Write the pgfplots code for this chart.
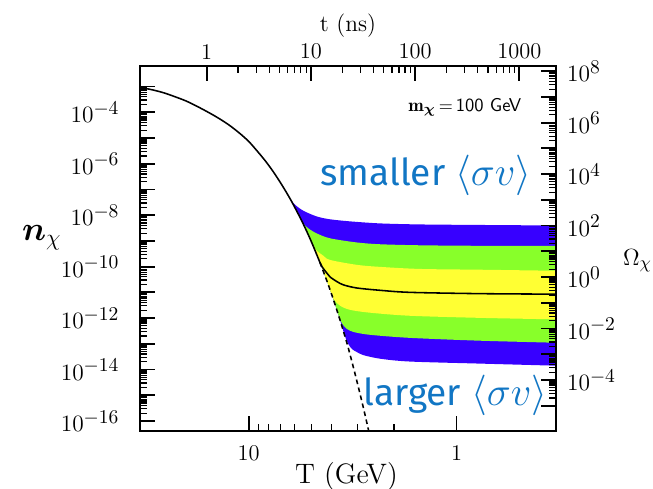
\documentclass[border=0pt]{standalone}
\usepackage{amsmath}
\usepackage{fontspec}
\usepackage{pgfplots}
\pgfplotsset{compat=1.18}
\usepgfplotslibrary{fillbetween}
\newfontfamily\fira{Fira Sans}
\newcommand\bluefont{\fira\fontsize{19}{22}\selectfont}
\newcommand\sv{{\fontsize{21}{24}\selectfont$\langle\sigma v\rangle$}}
\newcommand\tk[1]{$10^{\mbox{\fontsize{10}{12}\selectfont$#1$}}$}
\definecolor{bandblue}{RGB}{55,0,255}
\definecolor{bandgreen}{RGB}{136,255,42}
\definecolor{bandyellow}{RGB}{255,255,51}
\definecolor{textblue}{RGB}{17,118,196}

\begin{document}
\begin{tikzpicture}
% n_chi against T (GeV), T falling to the right
\begin{axis}[name=main,
    scale only axis, width=74.83mm, height=65.7mm,
    xmode=log, ymode=log, x dir=reverse,
    xmin=0.3333, xmax=33.33, ymin=4.07e-17, ymax=6.31e-3,
    tick align=inside,
    major tick length=2.7mm, minor tick length=1.2mm,
    major tick style={line width=0.9pt, black},
    minor tick style={line width=0.6pt, black},
    axis line style={line width=1.1pt},
    tick label style={font=\fontsize{11.5}{13}\selectfont},
    xtick pos=left, ytick pos=left,
    xtick={1,10}, xticklabels={1,10},
    ytick={1e-16,1e-15,1e-14,1e-13,1e-12,1e-11,1e-10,1e-9,1e-8,1e-7,1e-6,1e-5,1e-4,1e-3},
    yticklabels={\tk{-16},,\tk{-14},,\tk{-12},,\tk{-10},,\tk{-8},,\tk{-6},,\tk{-4},},
    xticklabel shift=4pt, yticklabel shift=7pt,
  ]
% band edges, top to bottom; all leave the equilibrium curve at T = 6.7 GeV
\addplot[name path=B1, draw=none, smooth] coordinates {
  (6.667,9.12e-8) (6.31,4.27e-8) (5.97,2.51e-8) (5.45,1.48e-8) (4.70,8.91e-9)
  (4.06,6.92e-9) (3.25,5.75e-9) (2.33,4.79e-9) (1.50,4.37e-9) (0.773,4.17e-9) (0.3333,3.98e-9)};
\addplot[name path=B2, draw=none, smooth] coordinates {
  (6.667,9.12e-8) (6.25,3.72e-8) (5.882,1.48e-8) (5.556,6.03e-9) (5.45,4.68e-9)
  (5.17,3.09e-9) (4.70,1.95e-9) (4.06,1.26e-9) (3.02,8.71e-10) (2.33,7.41e-10)
  (1.50,6.76e-10) (0.773,6.46e-10) (0.3333,6.46e-10)};
\addplot[name path=B3, draw=none, smooth] coordinates {
  (6.667,9.12e-8) (6.25,3.72e-8) (5.882,1.48e-8) (5.556,6.03e-9) (5.263,2.40e-9)
  (5.06,1.20e-9) (4.786,4.79e-10) (4.365,2.63e-10) (4.06,1.82e-10) (3.02,1.175e-10)
  (2.33,9.77e-11) (1.50,8.13e-11) (0.773,7.59e-11) (0.3333,6.92e-11)};
\addplot[name path=B4, draw=none, smooth] coordinates {
  (6.667,9.12e-8) (6.25,3.72e-8) (5.882,1.48e-8) (5.556,6.03e-9) (5.263,2.40e-9)
  (5.0,9.55e-10) (4.762,3.72e-10) (4.545,1.48e-10) (4.348,5.75e-11) (4.167,2.29e-11)
  (4.06,1.26e-11) (3.91,5.62e-12) (3.63,3.02e-12) (3.25,2.09e-12) (2.61,1.62e-12)
  (1.675,1.23e-12) (0.773,1.02e-12) (0.3333,8.91e-13)};
\addplot[name path=B5, draw=none, smooth] coordinates {
  (6.667,9.12e-8) (6.25,3.72e-8) (5.882,1.48e-8) (5.556,6.03e-9) (5.263,2.40e-9)
  (5.0,9.55e-10) (4.762,3.72e-10) (4.545,1.48e-10) (4.348,5.75e-11) (4.167,2.29e-11)
  (4.0,8.91e-12) (3.846,3.47e-12) (3.704,1.35e-12) (3.55,6.03e-13) (3.37,3.80e-13)
  (3.13,2.88e-13) (2.61,2.24e-13) (1.675,1.70e-13) (0.773,1.32e-13) (0.3333,1.10e-13)};
\addplot[name path=B6, draw=none, smooth] coordinates {
  (6.667,9.12e-8) (6.25,3.72e-8) (5.882,1.48e-8) (5.556,6.03e-9) (5.263,2.40e-9)
  (5.0,9.55e-10) (4.762,3.72e-10) (4.545,1.48e-10) (4.348,5.75e-11) (4.167,2.29e-11)
  (4.0,8.91e-12) (3.846,3.47e-12) (3.704,1.35e-12) (3.571,5.25e-13) (3.448,2.04e-13)
  (3.333,1.05e-13) (3.25,7.59e-14) (3.13,5.62e-14) (3.02,4.79e-14) (2.807,3.63e-14)
  (2.33,2.63e-14) (1.675,2.04e-14) (0.773,1.70e-14) (0.3333,1.41e-14)};
\addplot[fill=bandblue, draw=none] fill between[of=B1 and B6];
\addplot[fill=bandgreen, draw=none] fill between[of=B2 and B5];
\addplot[fill=bandyellow, draw=none] fill between[of=B3 and B4];
% equilibrium curve, then freeze-out
\addplot[black, line width=0.8pt, smooth] coordinates {
  (33.33,9.33e-4) (28.57,7.24e-4) (25,5.37e-4) (20,2.75e-4) (16.67,1.32e-4)
  (14.29,6.61e-5) (12.5,3.31e-5) (11.11,1.585e-5) (10,7.41e-6) (9.091,3.09e-6)
  (8.333,1.32e-6) (7.692,5.50e-7) (7.143,2.24e-7) (6.667,9.12e-8) (6.25,3.72e-8)
  (5.882,1.48e-8) (5.556,6.03e-9) (5.263,2.40e-9) (5.0,9.55e-10) (4.762,3.72e-10)
  (4.545,1.48e-10) (4.44,1.00e-10) (4.206,5.62e-11) (4.06,3.98e-11) (3.766,2.63e-11)
  (3.50,1.95e-11) (3.02,1.48e-11) (2.33,1.20e-11) (1.675,1.00e-11) (0.773,8.91e-12)
  (0.3333,8.51e-12)};
\addplot[black, line width=0.8pt, dash pattern=on 2.4pt off 1.8pt, smooth] coordinates {
  (4.545,1.48e-10) (4.348,5.75e-11) (4.167,2.29e-11) (4.0,8.91e-12) (3.846,3.47e-12)
  (3.704,1.35e-12) (3.571,5.25e-13) (3.448,2.04e-13) (3.333,7.94e-14) (3.125,1.10e-14)
  (2.941,1.55e-15) (2.778,2.29e-16) (2.632,3.39e-17)};
\end{axis}

% t (ns) on top, Omega on the right
\begin{axis}[
    scale only axis, width=74.83mm, height=65.7mm,
    xmode=log, ymode=log,
    xmin=0.2291, xmax=2234, ymin=1.047e-6, ymax=1.585e8,
    tick align=inside,
    major tick length=2.7mm, minor tick length=1.2mm,
    major tick style={line width=0.9pt, black},
    minor tick style={line width=0.6pt, black},
    axis line style={line width=1.1pt},
    tick label style={font=\fontsize{11.5}{13}\selectfont},
    xtick pos=right, ytick pos=right,
    xticklabel pos=right, yticklabel pos=right,
    xtick={1,10,100,1000}, xticklabels={1,10,100,1000},
    ytick={1e-5,1e-4,1e-3,1e-2,1e-1,1,10,100,1e3,1e4,1e5,1e6,1e7,1e8},
    yticklabels={,\tk{-4},,\tk{-2},,\tk{0},,\tk{2},,\tk{4},,\tk{6},,\tk{8}},
    yticklabel shift=2.3pt,
  ]
\end{axis}

\node[anchor=base, font=\fontsize{12}{14}\selectfont] at ([shift={(37.44mm,71.87mm)}]main.south west) {t (ns)};
\node[anchor=base, font=\fontsize{14.4}{16}\selectfont] at ([shift={(37.17mm,-9.41mm)}]main.south west) {T (GeV)};
\node[anchor=base west, inner sep=0pt, font=\fontsize{18}{22}\selectfont] at ([shift={(-21.29mm,34.38mm)}]main.south west) {$\boldsymbol{n}_{\chi}$};
\node[anchor=base west, inner sep=0pt, font=\fontsize{13}{15}\selectfont] at ([shift={(86.9mm,29.88mm)}]main.south west) {$\Omega_\chi$};
\node[anchor=base east, inner sep=0pt, font=\fontsize{9.5}{11}\selectfont] at ([shift={(68.71mm,57.47mm)}]main.south west) {$\mathbf{m}_{\boldsymbol{\chi}}\,{=}\,$\textsf{100 GeV}};
\node[anchor=base west, inner sep=0pt, text=textblue, font=\bluefont] at ([shift={(32.4mm,44.28mm)}]main.south west) {smaller \sv};
\node[anchor=base west, inner sep=0pt, text=textblue, font=\bluefont] at ([shift={(40.14mm,4.68mm)}]main.south west) {larger \sv};

\pgfresetboundingbox
\path ([shift={(-25.2mm,-10.26mm)}]main.south west) rectangle ([shift={(17.51mm,11.88mm)}]main.north east);
\end{tikzpicture}
\end{document}
